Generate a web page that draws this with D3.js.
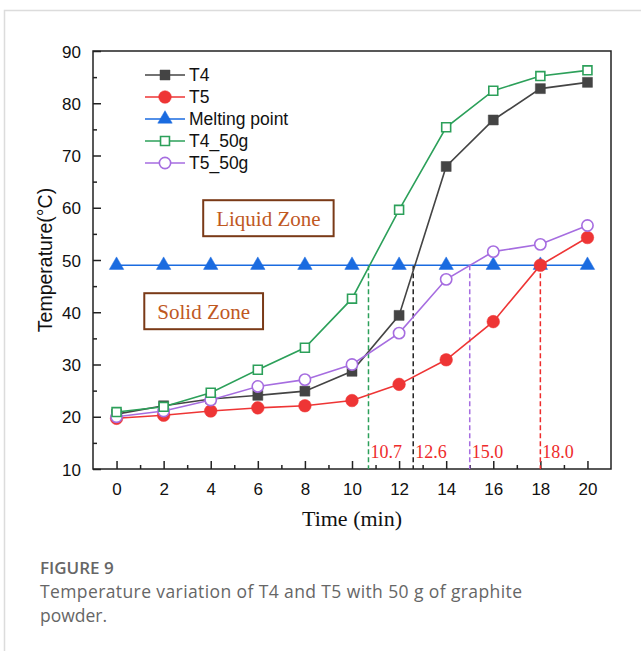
<!DOCTYPE html>
<html>
<head>
<meta charset="utf-8">
<script src="https://cdn.jsdelivr.net/npm/d3@7"></script>
<style>
  body { margin: 0; background: #fff; }
</style>
</head>
<body>
<div id="chart"></div>
<script>
// time points (min)
const times = [0, 2, 4, 6, 8, 10, 12, 14, 16, 18, 20];

// series values (°C)
const t4 = [20.5, 22.1, 23.4, 24.1, 24.9, 28.7, 39.4, 67.9, 76.8, 82.8, 84.0];
const t5 = [19.7, 20.3, 21.1, 21.7, 22.1, 23.1, 26.2, 30.9, 38.2, 49.0, 54.3];
const melting = [49, 49, 49, 49, 49, 49, 49, 49, 49, 49, 49];
const t4_50g = [20.9, 21.9, 24.6, 29.0, 33.2, 42.6, 59.6, 75.4, 82.4, 85.2, 86.3];
const t5_50g = [20.0, 21.1, 23.2, 25.8, 27.1, 30.0, 36.0, 46.3, 51.6, 53.0, 56.6];

const seriesNames = ["T4", "T5", "Melting point", "T4_50g", "T5_50g"];

// crossing times with the melting point
const crossTimes = [10.7, 12.6, 15.0, 18.0];
const crossLabels = ["10.7", "12.6", "15.0", "18.0"];

const xTicks = [0, 2, 4, 6, 8, 10, 12, 14, 16, 18, 20];
const yTicks = [10, 20, 30, 40, 50, 60, 70, 80, 90];

const width = 641, height = 651;
const margin = { top: 51, right: 30, bottom: 182, left: 93 };

const svg = d3.select("#chart").append("svg")
  .attr("width", width)
  .attr("height", height);

// page border (left and top only)
svg.append("path")
  .attr("d", `M4.5,${height} V10.5 H${width}`)
  .attr("fill", "none")
  .attr("stroke", "#dcdcdc")
  .attr("stroke-width", 1.5);

const x = d3.scaleLinear().domain([-1, 21]).range([margin.left, width - margin.right]);
const y = d3.scaleLinear().domain([10, 90]).range([height - margin.bottom, margin.top]);

const x0 = x.range()[0], x1 = x.range()[1];
const y0 = y.range()[0], y1 = y.range()[1];

// frame
svg.append("rect")
  .attr("x", x0).attr("y", y1)
  .attr("width", x1 - x0).attr("height", y0 - y1)
  .attr("fill", "none")
  .attr("stroke", "#222")
  .attr("stroke-width", 1.5);

// axes with inward ticks
const xAxis = svg.append("g")
  .attr("transform", `translate(0,${y0})`)
  .call(d3.axisBottom(x).tickValues(xTicks).tickSize(-8).tickPadding(14).tickFormat(d3.format("d")));
const xMinor = svg.append("g")
  .attr("transform", `translate(0,${y0})`)
  .call(d3.axisBottom(x).tickValues(d3.range(1, 20, 2)).tickSize(-4).tickFormat(""));
const yAxis = svg.append("g")
  .attr("transform", `translate(${x0},0)`)
  .call(d3.axisLeft(y).tickValues(yTicks).tickSize(-8).tickPadding(12).tickFormat(d3.format("d")));
const yMinor = svg.append("g")
  .attr("transform", `translate(${x0},0)`)
  .call(d3.axisLeft(y).tickValues(d3.range(15, 90, 10)).tickSize(-4).tickFormat(""));

[xAxis, xMinor, yAxis, yMinor].forEach(g => {
  g.select(".domain").remove();
  g.selectAll("line").attr("stroke", "#222").attr("stroke-width", 1.5);
  g.selectAll("text")
    .attr("fill", "#111")
    .style("font-family", "Arial, 'Liberation Sans', sans-serif")
    .style("font-size", "17px");
});
yAxis.selectAll("text").attr("dy", "0.36em");

// axis titles
svg.append("text")
  .attr("x", (x0 + x1) / 2)
  .attr("y", 526)
  .attr("text-anchor", "middle")
  .style("font-family", "'Times New Roman', 'Liberation Serif', serif")
  .style("font-size", "22px")
  .attr("fill", "#111")
  .text("Time (min)");

svg.append("text")
  .attr("transform", `translate(52,${(y0 + y1) / 2}) rotate(-90)`)
  .attr("text-anchor", "middle")
  .style("font-family", "Arial, 'Liberation Sans', sans-serif")
  .style("font-size", "19.5px")
  .attr("fill", "#111")
  .text("Temperature(°C)");

// dashed drop lines at melting-point crossings
const crossColors = ["#2ca05a", "#222", "#a66de0", "#ee2b2b"];
crossTimes.forEach((t, i) => {
  svg.append("line")
    .attr("x1", x(t)).attr("x2", x(t))
    .attr("y1", y(49)).attr("y2", y0)
    .attr("stroke", crossColors[i])
    .attr("stroke-width", 1.5)
    .attr("stroke-dasharray", "5,3");
  svg.append("text")
    .attr("x", x(t) + 2)
    .attr("y", 458)
    .style("font-family", "'Times New Roman', 'Liberation Serif', serif")
    .style("font-size", "18px")
    .attr("fill", "#ee2b2b")
    .text(crossLabels[i]);
});

// zone labels
const zones = [
  { text: "Liquid Zone", t: 6.45, v: 58 },
  { text: "Solid Zone", t: 3.7, v: 40.2 }
];
zones.forEach(z => {
  const g = svg.append("g");
  const txt = g.append("text")
    .attr("x", x(z.t))
    .attr("y", y(z.v))
    .attr("dy", "0.35em")
    .attr("text-anchor", "middle")
    .style("font-family", "'Times New Roman', 'Liberation Serif', serif")
    .style("font-size", "21px")
    .attr("fill", "#c0581f")
    .text(z.text);
  const bb = txt.node().getBBox();
  g.insert("rect", "text")
    .attr("x", bb.x - 13).attr("y", y(z.v) - 18)
    .attr("width", bb.width + 26).attr("height", 36)
    .attr("fill", "#fff")
    .attr("stroke", "#7a3a17")
    .attr("stroke-width", 2);
});

// series
const series = [
  { name: seriesNames[0], values: t4, color: "#444444", shape: d3.symbolSquare, fill: true },
  { name: seriesNames[1], values: t5, color: "#ee3535", shape: d3.symbolCircle, fill: true },
  { name: seriesNames[2], values: melting, color: "#1a6be0", shape: d3.symbolTriangle, fill: true },
  { name: seriesNames[3], values: t4_50g, color: "#2ca05a", shape: d3.symbolSquare, fill: false },
  { name: seriesNames[4], values: t5_50g, color: "#a66de0", shape: d3.symbolCircle, fill: false }
];

const line = d3.line().x((d, i) => x(times[i])).y(d => y(d));

function symbolSize(s) {
  if (s.shape === d3.symbolSquare) return s.fill ? 100 : 80;
  if (s.shape === d3.symbolCircle) return s.fill ? 125 : 100;
  return 90;
}

const drawOrder = [2, 1, 0, 4, 3];
drawOrder.forEach(k => {
  const s = series[k];
  svg.append("path")
    .datum(s.values)
    .attr("d", line)
    .attr("fill", "none")
    .attr("stroke", s.color)
    .attr("stroke-width", 1.6);
});
drawOrder.forEach(k => {
  const s = series[k];
  svg.selectAll(null)
    .data(s.values)
    .enter()
    .append("path")
    .attr("transform", (d, i) => `translate(${x(times[i])},${y(d)})`)
    .attr("d", d3.symbol().type(s.shape).size(symbolSize(s)))
    .attr("fill", s.fill ? s.color : "#fff")
    .attr("stroke", s.color)
    .attr("stroke-width", s.fill ? 0.5 : 1.6);
});

// legend
const legend = svg.append("g").attr("transform", "translate(145,75)");
series.forEach((s, i) => {
  const row = legend.append("g").attr("transform", `translate(0,${i * 22})`);
  row.append("line")
    .attr("x1", 0).attr("x2", 40)
    .attr("stroke", s.color).attr("stroke-width", 1.6);
  row.append("path")
    .attr("transform", "translate(20,0)")
    .attr("d", d3.symbol().type(s.shape).size(symbolSize(s)))
    .attr("fill", s.fill ? s.color : "#fff")
    .attr("stroke", s.color)
    .attr("stroke-width", s.fill ? 0.5 : 1.6);
  row.append("text")
    .attr("x", 44)
    .attr("dy", "0.36em")
    .style("font-family", "Arial, 'Liberation Sans', sans-serif")
    .style("font-size", "17.5px")
    .attr("fill", "#111")
    .text(s.name);
});

// caption
svg.append("text")
  .attr("x", 40).attr("y", 574)
  .style("font-family", "'Open Sans', sans-serif")
  .style("font-size", "17px")
  .style("font-weight", "600")
  .attr("fill", "#666")
  .text("FIGURE 9");
svg.append("text")
  .attr("x", 40).attr("y", 598)
  .style("font-family", "'Open Sans', sans-serif")
  .style("font-size", "17.5px")
  .attr("textLength", 482)
  .attr("lengthAdjust", "spacing")
  .attr("fill", "#666")
  .text("Temperature variation of T4 and T5 with 50 g of graphite");
svg.append("text")
  .attr("x", 40).attr("y", 622)
  .style("font-family", "'Open Sans', sans-serif")
  .style("font-size", "17.5px")
  .attr("fill", "#666")
  .text("powder.");
</script>
</body>
</html>
